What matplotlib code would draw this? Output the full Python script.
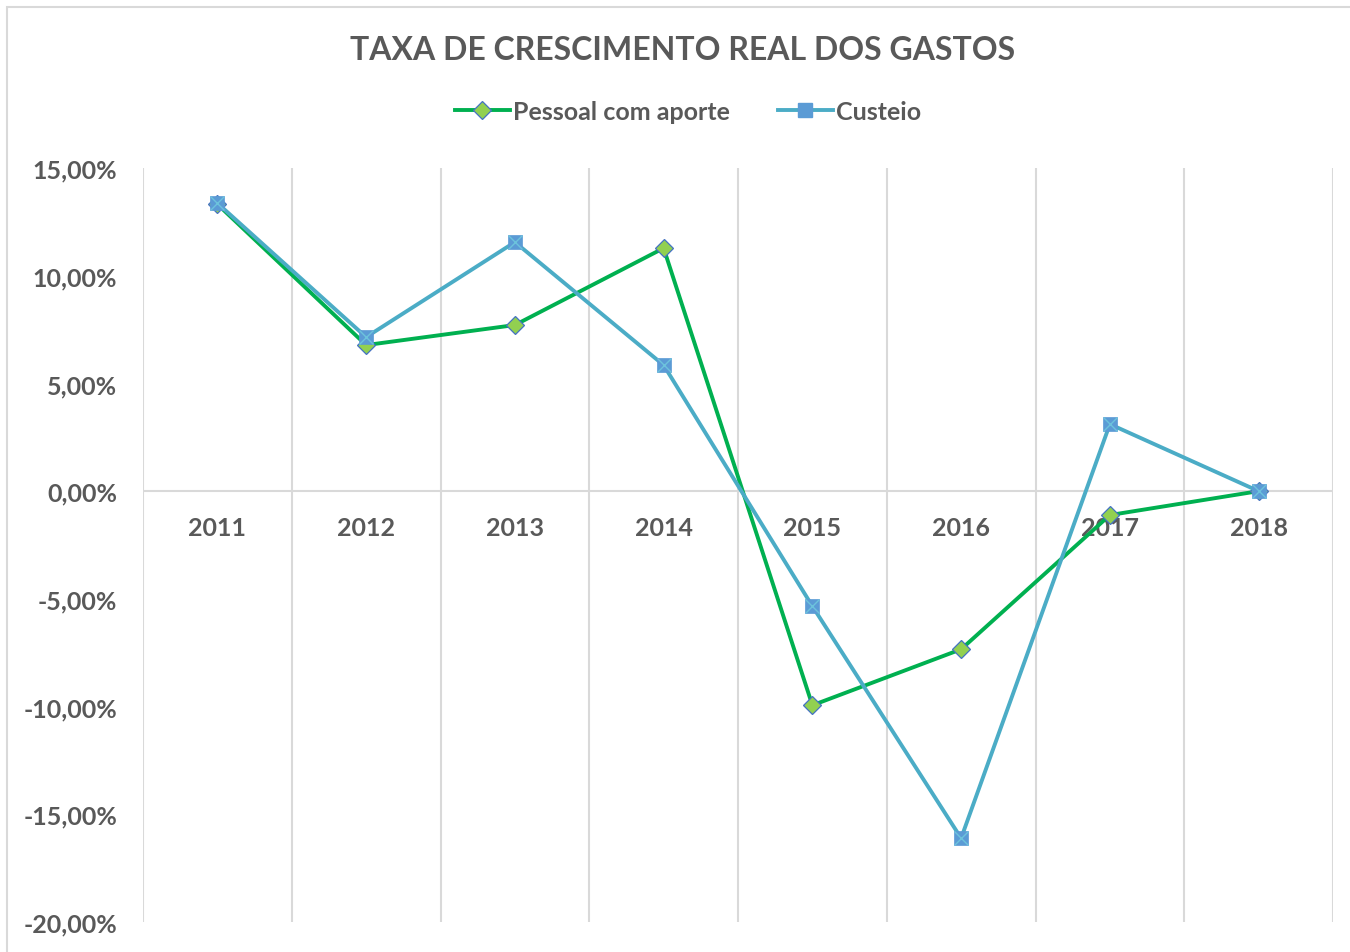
import matplotlib
matplotlib.use("Agg")
import matplotlib.pyplot as plt
from matplotlib.patches import Rectangle
from matplotlib.lines import Line2D

plt.rcParams['font.family'] = ['Lato', 'DejaVu Sans']

years = ["2011", "2012", "2013", "2014", "2015", "2016", "2017", "2018"]
pessoal = [13.32, 6.78, 7.71, 11.28, -9.94, -7.34, -1.11, 0.0]
custeio = [13.37, 7.15, 11.56, 5.85, -5.34, -16.11, 3.11, 0.0]
yticks = [15, 10, 5, 0, -5, -10, -15, -20]
ytick_labels = ["15,00%", "10,00%", "5,00%", "0,00%", "-5,00%", "-10,00%", "-15,00%", "-20,00%"]
title = "TAXA DE CRESCIMENTO REAL DOS GASTOS"
series_names = ["Pessoal com aporte", "Custeio"]

TXT = "#595959"
GRID = "#D9D9D9"
GREEN = "#00B050"
GREEN_FILL = "#92D050"
BLUE_EDGE = "#4472C4"
CYAN = "#4BACC6"
SQ_FILL = "#5B9BD5"

fig = plt.figure(figsize=(13.5, 9.53), dpi=100)
fig.patches.append(Rectangle((7/1350, -0.01), 1.0, 1 - 8/953 + 0.01, transform=fig.transFigure,
                             fill=False, edgecolor="#D9D9D9", lw=1.5))

ax = fig.add_axes([143/1350, 1 - 923/953, (1333 - 143)/1350, (923 - 169)/953])
x = list(range(len(years)))
ax.set_xlim(-0.5, len(years) - 0.5)
ax.set_ylim(-20, 15)

for k in range(len(years) + 1):
    ax.axvline(k - 0.5, color=GRID, lw=1.5, zorder=0)
ax.axhline(0, color=GRID, lw=1.5, zorder=1)

for s in ax.spines.values():
    s.set_visible(False)
ax.set_xticks([])
ax.set_yticks(yticks)
ax.set_yticklabels(ytick_labels, fontsize=18, fontweight="bold", color=TXT)
ax.tick_params(axis='y', length=0, pad=18.5)

for xi, lab in zip(x, years):
    ax.annotate(lab, (xi, 0), xytext=(0, -36), textcoords="offset pixels", ha="center", va="center",
                fontsize=18, fontweight="bold", color=TXT)

ax.plot(x, pessoal, color=GREEN, lw=2.8, marker="D", markersize=9.5,
        markerfacecolor=GREEN_FILL, markeredgecolor=BLUE_EDGE, markeredgewidth=0.9, zorder=3)
ax.plot(x, custeio, color=CYAN, lw=2.8, marker="s", markersize=10.5,
        markerfacecolor=SQ_FILL, markeredgecolor=SQ_FILL, markeredgewidth=0.5, zorder=4)
ax.plot(x, custeio, linestyle="none", marker="x", markersize=9.5, markeredgecolor="#6CC3DC",
        markeredgewidth=1.0, zorder=5)

fig.text(683/1350, 1 - 50/953, title, ha="center", va="center", fontsize=23, fontweight="bold", color=TXT)

handles = [
    Line2D([0], [0], color=GREEN, lw=2.8, marker="D", markersize=9.5, markerfacecolor=GREEN_FILL,
           markeredgecolor=BLUE_EDGE, markeredgewidth=0.9),
    Line2D([0], [0], color=CYAN, lw=2.8, marker="s", markersize=10.5, markerfacecolor=SQ_FILL,
           markeredgecolor=SQ_FILL),
]
leg = fig.legend(handles, series_names, loc="center", bbox_to_anchor=(688/1350, 1 - 112/953), ncol=2,
                 frameon=False, handlelength=2.2, handletextpad=0.15, columnspacing=1.9,
                 prop={'size': 18, 'weight': 'bold'})
for t in leg.get_texts():
    t.set_color(TXT)

fig.savefig("out.png", dpi=100)
